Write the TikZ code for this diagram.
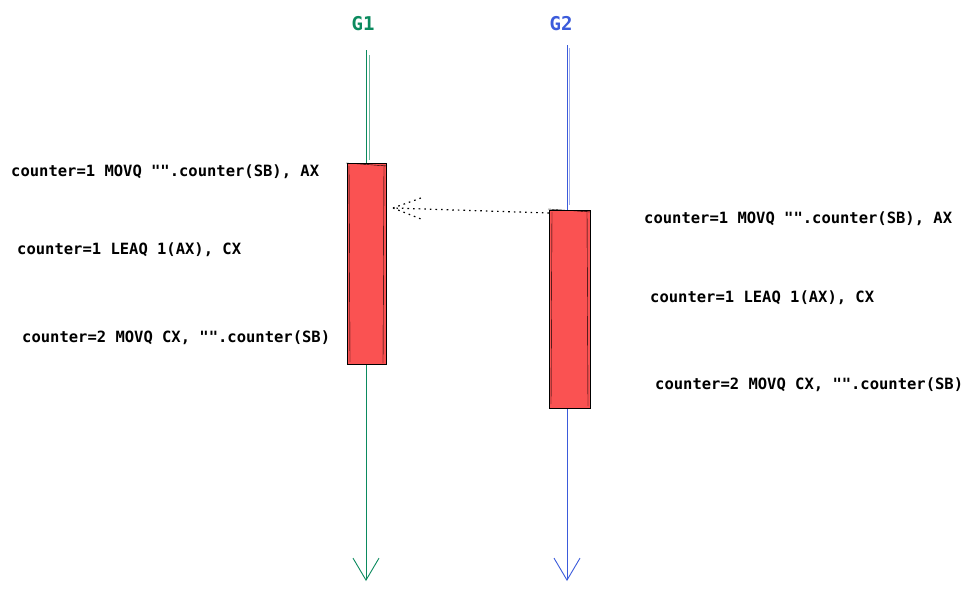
\documentclass[tikz,border=0pt]{standalone}
\usepackage{fontspec}
\setmonofont{DejaVu Sans Mono}
\usetikzlibrary{arrows.meta}
\definecolor{gteal}{HTML}{0B8A5E}
\definecolor{gblue}{HTML}{3B5BDB}
\definecolor{gred}{HTML}{FA5252}
\tikzset{
  glabel/.style={font=\ttfamily\bfseries\fontsize{19}{22}\selectfont, inner sep=0pt},
  code/.style={font=\ttfamily\bfseries\fontsize{15.5}{18}\selectfont, anchor=west, inner sep=0pt},
  timeline/.style={line width=0.9pt, -{Straight Barb[length=22pt,width=26pt,line width=0.9pt]}},
  execbox/.style={draw=black, line width=0.7pt, fill=gred, inner sep=0pt},
  waitline/.style={black, line width=1.2pt, dash pattern=on 1.6pt off 4pt},
}
\begin{document}
\begin{tikzpicture}[x=1pt,y=-1pt]
\useasboundingbox (0,0) rectangle (973,592);
\fill[white] (0,0) rectangle (973,592);
% goroutine labels
\node[glabel, text=gteal] (g1) at (363,24) {G1};
\node[glabel, text=gblue] (g2) at (561,24) {G2};
% timelines
\coordinate (g1top) at (366,50);
\coordinate (g1end) at (366,581);
\coordinate (g2top) at (567,45);
\coordinate (g2end) at (567,581);
\draw[timeline, draw=gteal] (g1top) -- (g1end);
\draw[gteal, line width=0.7pt, opacity=0.6] (369,55) -- (369,160);
\draw[timeline, draw=gblue] (g2top) -- (g2end);
\draw[gblue!70, line width=0.7pt, opacity=0.7] (569,48) -- (569,205);
% execution boxes
\node[execbox, minimum width=39pt, minimum height=201pt] (b1) at (366.5,263.5) {};
\node[execbox, minimum width=41pt, minimum height=198pt] (b2) at (569.5,309) {};
\draw[black, line width=0.4pt] (349,166) -- (350,362) (384,165) -- (383,363) (346,163) -- (387,166);
\draw[black, line width=0.4pt] (552,212) -- (551,404) (587,211) -- (588,406) (548,209) -- (591,212);
% waiting arrow (dotted, with dotted open head)
\coordinate (wstart) at (549,213);
\coordinate (wtip) at (393,208);
\coordinate (wbarb1) at (421,198);
\coordinate (wbarb2) at (421,219);
\draw[waitline] (wstart) -- (wtip);
\draw[waitline] (wtip) -- (wbarb1);
\draw[waitline] (wtip) -- (wbarb2);
% G1 code
\node[code] (l1) at (11,172) {counter=1 MOVQ "".counter(SB), AX};
\node[code] (l2) at (17,250) {counter=1 LEAQ 1(AX), CX};
\node[code] (l3) at (22,338) {counter=2 MOVQ CX, "".counter(SB)};
% G2 code
\node[code] (r1) at (644,219) {counter=1 MOVQ "".counter(SB), AX};
\node[code] (r2) at (650,298) {counter=1 LEAQ 1(AX), CX};
\node[code] (r3) at (655,385) {counter=2 MOVQ CX, "".counter(SB)};
\end{tikzpicture}
\end{document}
